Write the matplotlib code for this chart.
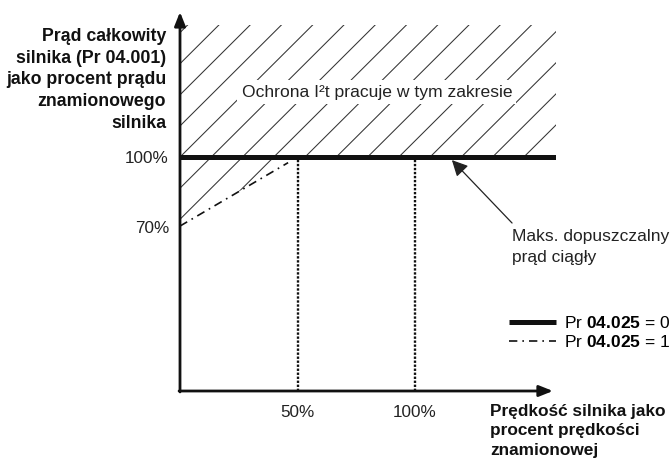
import matplotlib
matplotlib.use('Agg')
import matplotlib.pyplot as plt
from matplotlib.patches import Polygon
import numpy as np

plt.rcParams['font.family'] = ['Liberation Sans', 'DejaVu Sans']
plt.rcParams['mathtext.fontset'] = 'custom'
plt.rcParams['mathtext.rm'] = 'Liberation Sans'
plt.rcParams['mathtext.bf'] = 'Liberation Sans:bold'

# dane (procent predkosci / procent pradu)
speed_limit = [0, 160]
current_limit = [100, 100]
speed_dashdot = [0, 46]
current_dashdot = [70.5, 97.6]
speed_marks = [50, 100]
x_ticks = [50, 100]
x_tick_labels = ['50%', '100%']
y_ticks = [70, 100]
y_tick_labels = ['70%', '100%']
zone_top = 156.4
zone_text = 'Ochrona I²t pracuje w tym zakresie'
note_text = 'Maks. dopuszczalny\nprąd ciągły'
note_point = (115.7, 98.7)
note_tail = (141.3, 71.8)
y_label = 'Prąd całkowity\nsilnika (Pr 04.001)\njako procent prądu\nznamionowego\nsilnika'
x_label = 'Prędkość silnika jako\nprocent prędkości\nznamionowej'
legend_labels = [r'Pr $\mathbf{04.025}$ = 0', r'Pr $\mathbf{04.025}$ = 1']

fig = plt.figure(figsize=(6.72, 4.59), dpi=100)
ax = fig.add_axes([180 / 672, 68 / 459, 376 / 672, 379 / 459])
ax.set_xlim(0, 160)
ax.set_ylim(0, 162)
for s in ax.spines.values():
    s.set_visible(False)

# strefa zakreskowana
upper = Polygon([(0, 100), (160, 100), (160, zone_top), (0, zone_top)],
                closed=True, fill=False, lw=0)
lower = Polygon([(0, current_dashdot[0]), (50, 100), (0, 100)],
                closed=True, fill=False, lw=0)
ax.add_patch(upper)
ax.add_patch(lower)
xs = np.array([-10, 170])
for c in np.arange(33.5 - 13.3 * 12, 170, 13.3):
    for patch in (upper, lower):
        ln, = ax.plot(xs, xs + c, color='#333333', lw=0.75)
        ln.set_clip_path(patch)

ax.text(83.8, 127.8, zone_text, fontsize=12.6, ha='center', va='center',
        color='#222222',
        bbox=dict(facecolor='white', edgecolor='none', pad=3))

# linie
ax.plot(speed_limit, current_limit, color='#111111', lw=3.6,
        solid_capstyle='butt', label=legend_labels[0], zorder=4)
ax.plot(speed_dashdot, current_dashdot, color='#111111', lw=1.2,
        ls=(0, (5, 3, 1, 3)), label=legend_labels[1], zorder=4)
for x in speed_marks:
    ax.plot([x, x], [0, 100], color='#111111', lw=1.7, ls=(0, (1, 0.7)))

# osie ze strzalkami
arrow = dict(arrowstyle='-|>,head_length=0.55,head_width=0.22', lw=2,
             color='#111111', mutation_scale=15, shrinkA=0, shrinkB=0)
ax.annotate('', xy=(158.7, 0), xytext=(-0.4, 0), arrowprops=arrow,
            annotation_clip=False)
ax.annotate('', xy=(0, 162), xytext=(0, -0.4), arrowprops=arrow,
            annotation_clip=False)

ax.set_xticks(x_ticks)
ax.set_xticklabels(x_tick_labels)
ax.set_yticks(y_ticks)
ax.set_yticklabels(y_tick_labels)
ax.tick_params(length=0, labelsize=12.3, colors='#222222')
ax.tick_params(axis='x', pad=10)
ax.tick_params(axis='y', pad=8)

# opis strzalki
ax.annotate('', xy=note_point, xytext=note_tail,
            arrowprops=dict(arrowstyle='-|>,head_length=0.8,head_width=0.4',
                            lw=0.9, color='#222222', mutation_scale=12,
                            shrinkA=0, shrinkB=0),
            annotation_clip=False)
ax.text(note_tail[0], 61.5, note_text, fontsize=12.5, ha='left', va='center',
        color='#222222', linespacing=1.45)

fig.text(166 / 672, 1 - 80 / 459, y_label, fontsize=12.8, fontweight='bold',
         ha='right', va='center', multialignment='right', linespacing=1.36,
         color='#111111')
fig.text(490 / 672, 1 - 431 / 459, x_label, fontsize=12.4, fontweight='bold',
         ha='left', va='center', linespacing=1.4, color='#111111')

ax.legend(loc='upper left', bbox_to_anchor=(509 / 672, 1 - 315 / 459),
          bbox_transform=fig.transFigure, frameon=False, fontsize=12.5,
          handlelength=2.7, handletextpad=0.45, labelspacing=0.2,
          borderpad=0, borderaxespad=0)

plt.savefig('out.png', dpi=100)
